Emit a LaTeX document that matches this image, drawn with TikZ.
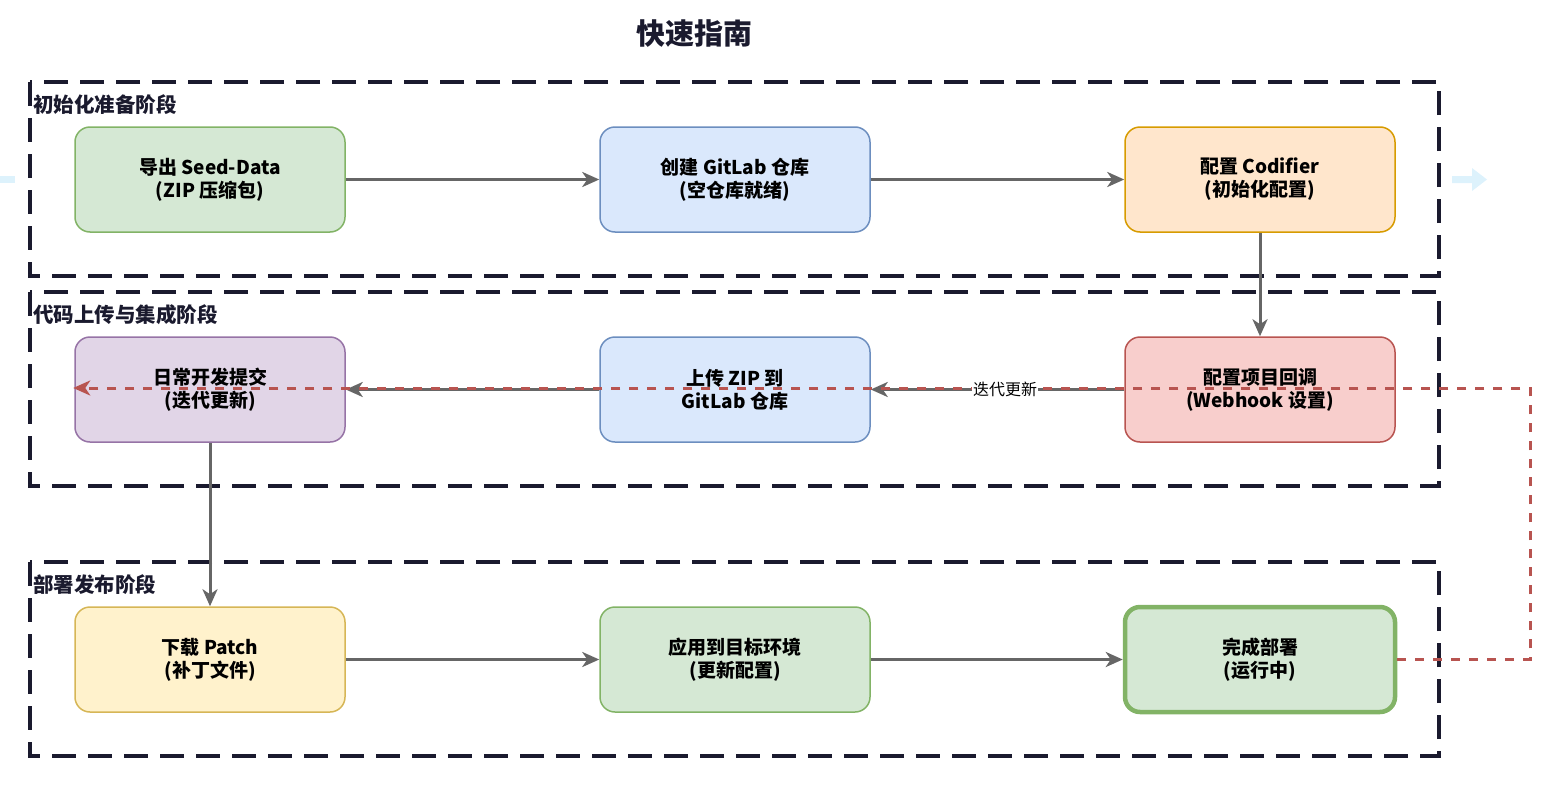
\documentclass[tikz,border=0pt]{standalone}
\usepackage{fontspec}
\setmainfont{Noto Sans CJK SC}
\usetikzlibrary{arrows.meta}
\definecolor{navy}{HTML}{1A1A2E}
\definecolor{gline}{HTML}{666666}
\definecolor{redln}{HTML}{B85450}
\definecolor{ltblue}{HTML}{DDF2FC}
\definecolor{gF}{HTML}{D5E8D4}\definecolor{gS}{HTML}{82B366}
\definecolor{bF}{HTML}{DAE8FC}\definecolor{bS}{HTML}{6C8EBF}
\definecolor{oF}{HTML}{FFE6CC}\definecolor{oS}{HTML}{D79B00}
\definecolor{rF}{HTML}{F8CECC}\definecolor{rS}{HTML}{B85450}
\definecolor{pF}{HTML}{E1D5E7}\definecolor{pS}{HTML}{9673A6}
\definecolor{yF}{HTML}{FFF2CC}\definecolor{yS}{HTML}{D6B656}
\tikzset{
  box/.style={draw, rounded corners=15pt, minimum width=270pt, minimum height=105pt,
    line width=1.5pt, align=center, inner sep=0pt,
    font=\bfseries\fontsize{19}{23}\selectfont},
  lane/.style={draw=navy, line width=3.2pt, dash pattern=on 24pt off 12pt},
  lanelabel/.style={anchor=west, text=navy, font=\bfseries\fontsize{20.5}{24}\selectfont, inner sep=0pt},
  flow/.style={draw=gline, line width=3pt, -{Stealth[length=17pt,width=15pt,inset=5pt]}},
  back/.style={draw=redln, line width=3pt, dash pattern=on 9pt off 9pt,
    -{Stealth[length=17pt,width=15pt,inset=5pt,sep=-1pt]}},
}
\begin{document}
\begin{tikzpicture}[x=1pt,y=-1pt]
\useasboundingbox (0,0) rectangle (1563,795);
% title
\node[text=navy, font=\bfseries\fontsize{29}{34}\selectfont] (title) at (694,34) {快速指南};
% decorative light-blue arrows
\fill[ltblue] (0,176) rectangle (15,183);
\fill[ltblue] (1452,176) -- (1472,176) -- (1472,168) -- (1487,179.5) -- (1472,191) -- (1472,183) -- (1452,183) -- cycle;
% lanes
\draw[lane] (30,82) rectangle (1439,276);
\draw[lane] (30,292) rectangle (1439,486);
\draw[lane] (30,562) rectangle (1439,756);
\node[lanelabel] (l1) at (33,105) {初始化准备阶段};
\node[lanelabel] (l2) at (33,315) {代码上传与集成阶段};
\node[lanelabel] (l3) at (33,585) {部署发布阶段};
% nodes
\node[box, fill=gF, draw=gS] (n1) at (210,179.5) {导出 Seed-Data\\(ZIP 压缩包)};
\node[box, fill=bF, draw=bS] (n2) at (735,179.5) {创建 GitLab 仓库\\(空仓库就绪)};
\node[box, fill=oF, draw=oS] (n3) at (1260,179.5) {配置 Codifier\\(初始化配置)};
\node[box, fill=rF, draw=rS] (n4) at (1260,389.5) {配置项目回调\\(Webhook 设置)};
\node[box, fill=bF, draw=bS] (n5) at (735,389.5) {上传 ZIP 到\\GitLab 仓库};
\node[box, fill=pF, draw=pS] (n6) at (210,389.5) {日常开发提交\\(迭代更新)};
\node[box, fill=yF, draw=yS] (n7) at (210,659.5) {下载 Patch\\(补丁文件)};
\node[box, fill=gF, draw=gS] (n8) at (735,659.5) {应用到目标环境\\(更新配置)};
\node[box, fill=gF, draw=gS, line width=4.5pt] (n9) at (1260,659.5) {完成部署\\(运行中)};
% flow arrows
\draw[flow] (n1) -- (n2);
\draw[flow] (n2) -- (n3);
\draw[flow] (n3) -- (n4);
\draw[flow] (n4) -- (n5);
\draw[flow] (n5) -- (n6);
\draw[flow] (n6) -- (n7);
\draw[flow] (n7) -- (n8);
\draw[flow] (n8) -- (n9);
% feedback loop
\coordinate (c1) at (1530,659.5);
\coordinate (c2) at (1530,388);
\coordinate (c3) at (n6.west |- 0,388);
\draw[back] (n9.east) -- (c1) -- (c2) -- (c3);
\node[fill=white, inner sep=1pt, font=\fontsize{16}{19}\selectfont] (lbl) at (1005,389) {迭代更新};
\end{tikzpicture}
\end{document}
